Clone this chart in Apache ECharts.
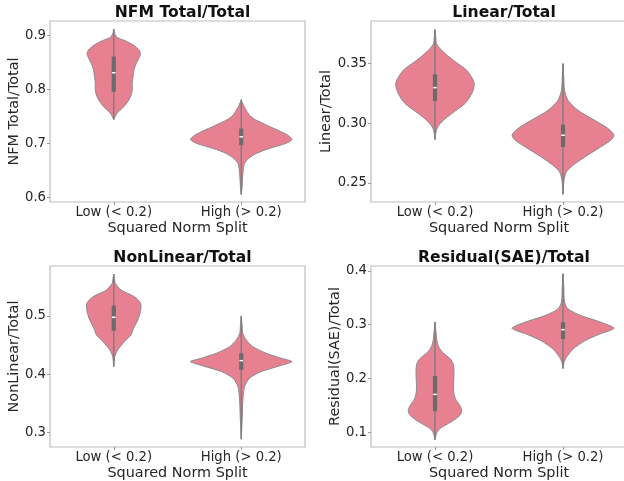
<!DOCTYPE html>
<html><head><meta charset="utf-8">
<script src="https://cdn.jsdelivr.net/npm/echarts@6/dist/echarts.min.js"></script>
<style>html,body{margin:0;padding:0;background:#fff}#c{width:624px;height:481px}</style>
</head><body><div id="c"></div>
<script>
// ---------- data ----------
const categories = ['Low (< 0.2)', 'High (> 0.2)'];
const xAxisTitle = 'Squared Norm Split';
const panelTitles = ['NFM Total/Total', 'Linear/Total', 'NonLinear/Total', 'Residual(SAE)/Total'];

const nfmTicks = [0.6, 0.7, 0.8, 0.9];
const linearTicks = [0.25, 0.30, 0.35];
const nonlinearTicks = [0.3, 0.4, 0.5];
const residualTicks = [0.1, 0.2, 0.3, 0.4];

// violin profiles: [value, half-width in category units]
const nfmLowProfile = [[0.912,0],[0.903,0.008],[0.896,0.031],[0.890,0.094],[0.882,0.156],[0.873,0.199],[0.865,0.209],[0.857,0.195],[0.848,0.176],[0.838,0.160],[0.825,0.152],[0.812,0.145],[0.800,0.145],[0.790,0.137],[0.780,0.117],[0.772,0.094],[0.764,0.063],[0.757,0.031],[0.750,0.012],[0.744,0]];
const nfmHighProfile = [[0.781,0],[0.771,0.016],[0.7615,0.039],[0.752,0.065],[0.744,0.109],[0.737,0.170],[0.7305,0.227],[0.7244,0.287],[0.715,0.365],[0.707,0.398],[0.700,0.352],[0.6903,0.219],[0.681,0.117],[0.6717,0.057],[0.6625,0.026],[0.653,0.017],[0.644,0.013],[0.630,0.009],[0.615,0.005],[0.605,0]];
const linearLowProfile = [[0.3785,0],[0.372,0.006],[0.3667,0.012],[0.3611,0.052],[0.3528,0.143],[0.3444,0.248],[0.336,0.299],[0.3318,0.307],[0.3249,0.287],[0.3165,0.234],[0.3081,0.130],[0.3025,0.065],[0.2969,0.021],[0.2927,0.008],[0.2864,0]];
const linearHighProfile = [[0.350,0],[0.338,0.006],[0.3276,0.012],[0.3193,0.039],[0.3109,0.117],[0.3025,0.248],[0.2956,0.352],[0.290,0.398],[0.2858,0.373],[0.2788,0.273],[0.2718,0.170],[0.2648,0.078],[0.2592,0.026],[0.2523,0.008],[0.2405,0]];
const nonlinearLowProfile = [[0.572,0],[0.564,0.006],[0.556,0.012],[0.5446,0.057],[0.533,0.162],[0.5218,0.211],[0.5074,0.209],[0.493,0.188],[0.4789,0.156],[0.4674,0.135],[0.4559,0.084],[0.4417,0.031],[0.4302,0.008],[0.413,0]];
const nonlinearHighProfile = [[0.500,0],[0.485,0.006],[0.4703,0.012],[0.4588,0.039],[0.4473,0.091],[0.436,0.195],[0.4274,0.313],[0.4216,0.398],[0.4142,0.299],[0.4045,0.156],[0.3931,0.065],[0.3787,0.026],[0.356,0.013],[0.3273,0.008],[0.2885,0]];
const residualLowProfile = [[0.305,0],[0.290,0.006],[0.275,0.012],[0.262,0.023],[0.252,0.047],[0.243,0.086],[0.236,0.121],[0.228,0.141],[0.218,0.148],[0.205,0.148],[0.190,0.145],[0.175,0.146],[0.162,0.160],[0.152,0.188],[0.142,0.209],[0.133,0.199],[0.124,0.156],[0.115,0.094],[0.107,0.039],[0.100,0.016],[0.093,0.006],[0.086,0]];
const residualHighProfile = [[0.3948,0],[0.370,0.006],[0.342,0.012],[0.3293,0.039],[0.3168,0.141],[0.3045,0.297],[0.2933,0.398],[0.2826,0.287],[0.270,0.170],[0.2546,0.078],[0.239,0.026],[0.2297,0.008],[0.2185,0]];

// box stats: [whiskerLow, q1, median, q3, whiskerHigh]
const nfmLowBox = [0.744, 0.7956, 0.831, 0.861, 0.912];
const nfmHighBox = [0.605, 0.6965, 0.712, 0.7275, 0.781];
const linearLowBox = [0.2864, 0.3187, 0.3299, 0.341, 0.3785];
const linearHighBox = [0.2405, 0.2802, 0.290, 0.2989, 0.350];
const nonlinearLowBox = [0.413, 0.4748, 0.4977, 0.5177, 0.572];
const nonlinearHighBox = [0.2885, 0.4074, 0.4233, 0.436, 0.500];
const residualLowBox = [0.086, 0.1393, 0.1705, 0.2047, 0.305];
const residualHighBox = [0.2185, 0.2733, 0.2907, 0.3045, 0.3948];

// ---------- chart ----------
const panels = [
  {title: panelTitles[0], ylabel: 'NFM Total/Total', ticks: nfmTicks, dec: 1, min: 0.591, max: 0.927, profiles: [nfmLowProfile, nfmHighProfile], boxes: [nfmLowBox, nfmHighBox], grid: {left: 50, top: 21, width: 255, height: 181}, nameGap: 28},
  {title: panelTitles[1], ylabel: 'Linear/Total', ticks: linearTicks, dec: 2, min: 0.2341, max: 0.3857, profiles: [linearLowProfile, linearHighProfile], boxes: [linearLowBox, linearHighBox], grid: {left: 371, top: 21, width: 256, height: 181}, nameGap: 31},
  {title: panelTitles[2], ylabel: 'NonLinear/Total', ticks: nonlinearTicks, dec: 1, min: 0.275, max: 0.5858, profiles: [nonlinearLowProfile, nonlinearHighProfile], boxes: [nonlinearLowBox, nonlinearHighBox], grid: {left: 50, top: 266, width: 255, height: 181}, nameGap: 28},
  {title: panelTitles[3], ylabel: 'Residual(SAE)/Total', ticks: residualTicks, dec: 1, min: 0.0727, max: 0.409, profiles: [residualLowProfile, residualHighProfile], boxes: [residualLowBox, residualHighBox], grid: {left: 371, top: 266, width: 256, height: 181}, nameGap: 21}
];

const FONT = 'DejaVu Sans';
const TXT = '#262626';
const FILL = '#e78191';

function makeRender(profiles, boxes) {
  return function (params, api) {
    const i = params.dataIndex;
    const prof = profiles[i], box = boxes[i];
    const band = api.size([1, 0])[0];
    const right = prof.map(p => { const c = api.coord([i, p[0]]); return [c[0] + p[1] * band, c[1]]; });
    const left = prof.slice().reverse().map(p => { const c = api.coord([i, p[0]]); return [c[0] - p[1] * band, c[1]]; });
    const wl = api.coord([i, box[0]]), q1 = api.coord([i, box[1]]), md = api.coord([i, box[2]]), q3 = api.coord([i, box[3]]), wh = api.coord([i, box[4]]);
    return {
      type: 'group',
      children: [
        {type: 'polygon', shape: {points: right.concat(left), smooth: 0.25}, style: {fill: FILL, stroke: '#8a8a8a', lineWidth: 1}},
        {type: 'line', shape: {x1: wl[0], y1: wl[1], x2: wh[0], y2: wh[1]}, style: {stroke: '#7d7d7d', lineWidth: 1.4}},
        {type: 'line', shape: {x1: q1[0], y1: q1[1], x2: q3[0], y2: q3[1]}, style: {stroke: '#6b6b6b', lineWidth: 4.2}},
        {type: 'line', shape: {x1: md[0] - 1.8, y1: md[1], x2: md[0] + 1.8, y2: md[1]}, style: {stroke: '#ffffff', lineWidth: 1.5}}
      ]
    };
  };
}

const option = {
  animation: false,
  backgroundColor: '#ffffff',
  title: panels.map(p => ({
    text: p.title, left: p.grid.left + p.grid.width / 2, top: p.grid.top - 21, textAlign: 'center',
    textStyle: {fontFamily: FONT, fontWeight: 'bold', fontSize: 15.6, color: '#111'}
  })),
  grid: panels.map(p => Object.assign({show: true, borderColor: '#bdbdbd', borderWidth: 1.2, outerBoundsMode: 'none', containLabel: false}, p.grid)),
  xAxis: panels.map((p, k) => ({
    type: 'category', gridIndex: k, data: categories, boundaryGap: true,
    name: xAxisTitle, nameLocation: 'middle', nameGap: 19,
    nameTextStyle: {fontFamily: FONT, fontSize: 14.4, color: TXT},
    axisLine: {show: false},
    axisTick: {show: true, alignWithLabel: true, length: 3, lineStyle: {color: '#9a9a9a'}},
    axisLabel: {fontFamily: FONT, fontSize: 13.2, color: TXT, margin: 4},
    splitLine: {show: false}
  })),
  yAxis: panels.map((p, k) => ({
    type: 'value', gridIndex: k, min: p.min, max: p.max,
    name: p.ylabel, nameLocation: 'middle', nameGap: p.nameGap,
    nameTextStyle: {fontFamily: FONT, fontSize: 14.4, color: TXT},
    axisLine: {show: false},
    axisTick: {show: true, length: 3, lineStyle: {color: '#9a9a9a'}, customValues: p.ticks},
    axisLabel: {fontFamily: FONT, fontSize: 13.2, color: TXT, margin: 4, customValues: p.ticks,
      formatter: v => Number(v).toFixed(p.dec)},
    splitLine: {show: false}
  })),
  series: panels.map((p, k) => ({
    type: 'custom', xAxisIndex: k, yAxisIndex: k, clip: false,
    encode: {x: 0, y: 1},
    data: p.boxes.map((b, i) => [i, b[2]]),
    renderItem: makeRender(p.profiles, p.boxes)
  }))
};

const chart = echarts.init(document.getElementById('c'), null, {renderer: 'canvas'});
chart.setOption(option);
</script>
</body></html>
